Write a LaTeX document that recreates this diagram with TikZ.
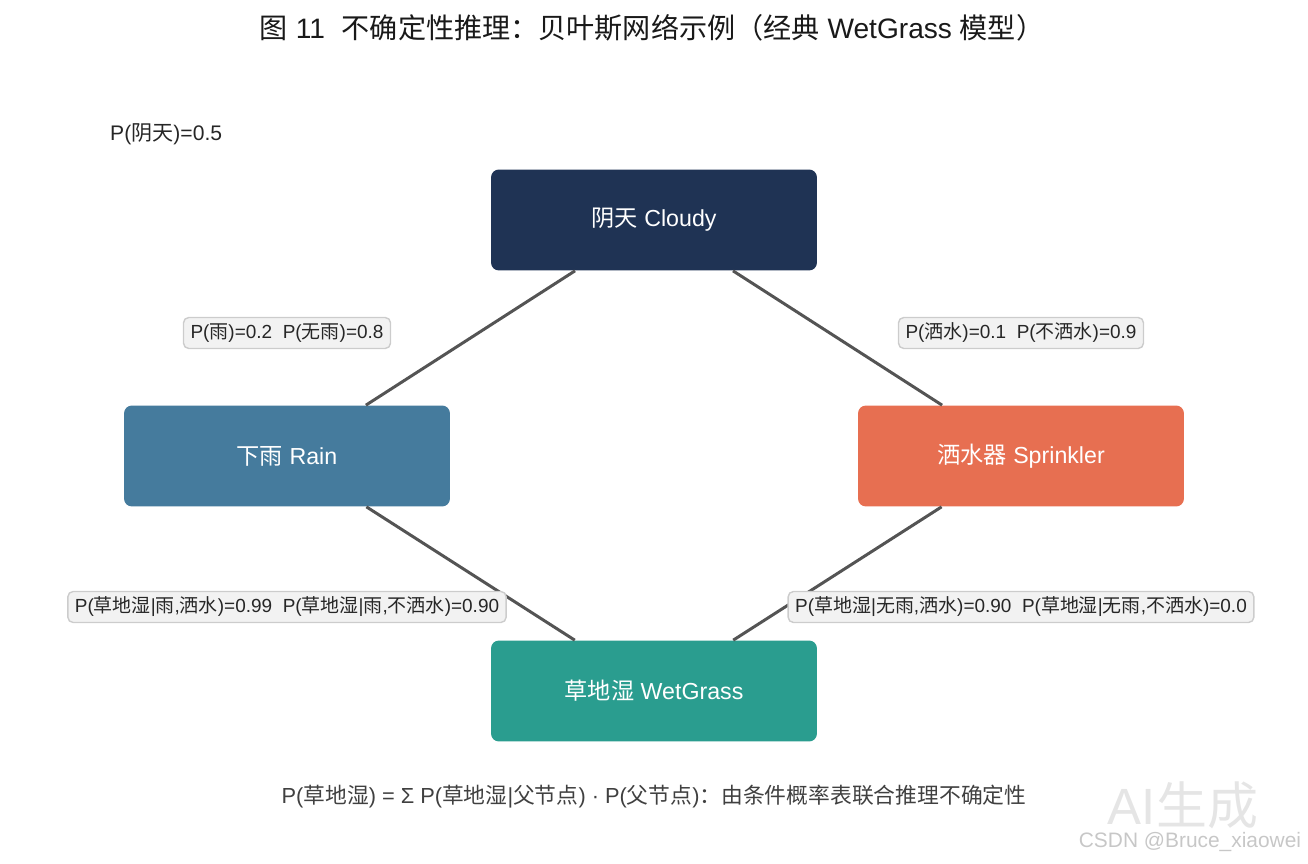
\documentclass[tikz,border=0pt]{standalone}
\usepackage{fontspec}
\setmainfont{Liberation Sans}
\newfontfamily\zhfont{Noto Sans CJK SC}
\newfontfamily\latfont{Liberation Sans}
\usetikzlibrary{positioning}

% CJK characters switch to the CJK font by themselves
\XeTeXinterchartokenstate=1
\newXeTeXintercharclass\cjkclass
\newcount\cjkcode
\newcommand\setcjkrange[2]{%
  \cjkcode=#1\relax
  \loop\XeTeXcharclass\cjkcode=\cjkclass\relax
    \ifnum\cjkcode<#2\relax\advance\cjkcode by 1\relax\repeat}
\setcjkrange{"4E00}{"9FFF}
\setcjkrange{"3000}{"303F}
\setcjkrange{"FF00}{"FFEF}
\XeTeXinterchartoks 0 \cjkclass = {\zhfont}
\XeTeXinterchartoks 4095 \cjkclass = {\zhfont}
\XeTeXinterchartoks \cjkclass 0 = {\latfont}
\XeTeXinterchartoks \cjkclass 4095 = {\latfont}

\definecolor{cloudyc}{HTML}{1F3354}
\definecolor{rainc}{HTML}{457B9D}
\definecolor{sprinklerc}{HTML}{E76F51}
\definecolor{wetc}{HTML}{2A9D8F}

\tikzset{
  bnode/.style={rounded corners=4.5pt, minimum width=6.52cm, minimum height=2.02cm,
    text=white, font=\fontsize{13.2}{15}\selectfont},
  cpt/.style={draw=black!20, fill=black!5, rounded corners=3pt, line width=0.8pt,
    inner xsep=4pt, inner ysep=0pt, minimum height=0.62cm, text=black!85,
    font=\fontsize{10.8}{12}\selectfont},
  link/.style={draw=black!67, line width=1.7pt},
}

\begin{document}
\begin{tikzpicture}[x=0.02cm, y=-0.02cm]
  \useasboundingbox (0,0) rectangle (1308,864);

  % Title
  \node[font=\fontsize{16}{19}\selectfont, text=black!90] (title) at (652,28)
    {图 11\hspace{0.6em}不确定性推理：贝叶斯网络示例（经典 WetGrass 模型）};

  % Prior
  \node[anchor=west, font=\fontsize{12}{14}\selectfont, text=black!85] (pcloudy) at (104,134) {P(阴天)=0.5};

  % Variables
  \node[bnode, fill=cloudyc] (cloudy) at (654,220) {阴天 Cloudy};
  \node[bnode, fill=rainc] (rain) at (287,456) {下雨 Rain};
  \node[bnode, fill=sprinklerc] (sprinkler) at (1021,456) {洒水器 Sprinkler};
  \node[bnode, fill=wetc] (wet) at (654,691) {草地湿 WetGrass};

  % Links
  \draw[link] (cloudy) -- (rain);
  \draw[link] (cloudy) -- (sprinkler);
  \draw[link] (rain) -- (wet);
  \draw[link] (sprinkler) -- (wet);

  % Conditional probabilities
  \node[cpt] (prain) at (287,333) {P(雨)=0.2\ \ P(无雨)=0.8};
  \node[cpt] (psprinkler) at (1021,333) {P(洒水)=0.1\ \ P(不洒水)=0.9};
  \node[cpt] (pwetrain) at (287,607) {P(草地湿|雨,洒水)=0.99\ \ P(草地湿|雨,不洒水)=0.90};
  \node[cpt] (pwetdry) at (1021,607) {P(草地湿|无雨,洒水)=0.90\ \ P(草地湿|无雨,不洒水)=0.0};

  % Note
  \node[font=\fontsize{12.4}{14}\selectfont, text=black!75] (note) at (654,797)
    {P(草地湿) = Σ P(草地湿|父节点) · P(父节点)：由条件概率表联合推理不确定性};

  % Watermark
  \node[font=\fontsize{29}{33}\selectfont, text=black!10] (wm) at (1183,805) {AI生成};
  \node[font=\fontsize{11.9}{14}\selectfont, text=black!22] (wmname) at (1190,842) {CSDN @Bruce\_xiaowei};
\end{tikzpicture}
\end{document}
